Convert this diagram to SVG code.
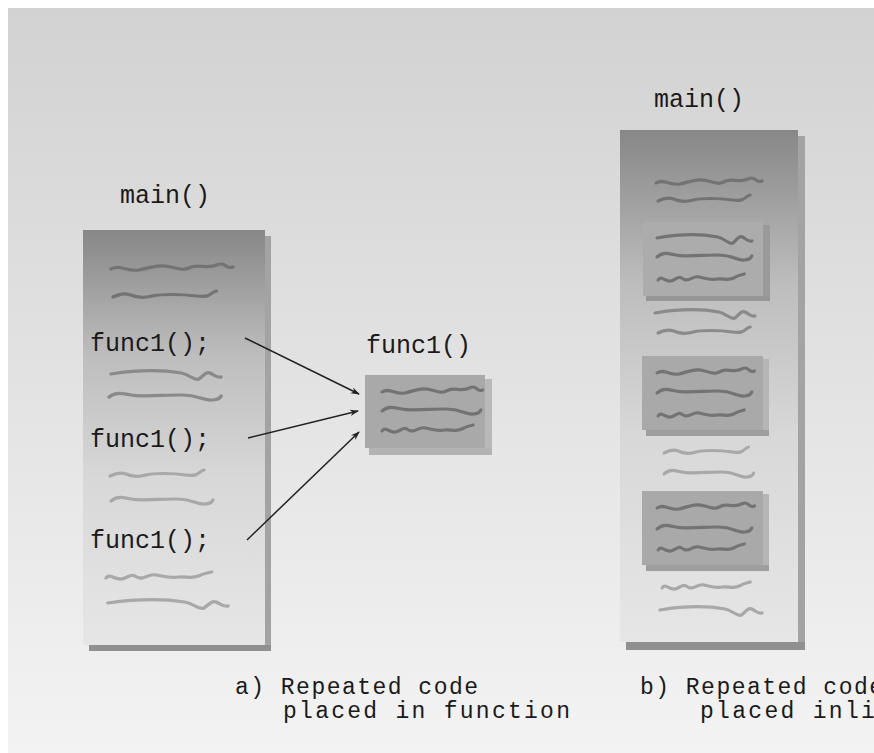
<svg xmlns="http://www.w3.org/2000/svg" xmlns:xlink="http://www.w3.org/1999/xlink" width="874" height="753" viewBox="0 0 874 753">
<style>
.t{font-family:"Liberation Mono","DejaVu Sans Mono",monospace;font-size:25px;fill:#1a1a1a}
.cap{font-size:23px}
.sq{fill:none;stroke-width:3.2;stroke-linecap:round;stroke-linejoin:round}
.dk{stroke:#737373}
.md{stroke:#8a8a8a}
.lt{stroke:#a8a8a8}
.face{fill:#a9a9a9}
.shr{fill:#b9b9b9}
.arrow{stroke:#222;stroke-width:1.5;fill:none;marker-end:url(#ah)}
</style>
<defs>
<linearGradient id="bg" x1="0" y1="0" x2="0" y2="1">
<stop offset="0" stop-color="#d2d2d2"/>
<stop offset="1" stop-color="#f3f3f3"/>
</linearGradient>
<linearGradient id="boxL" x1="0" y1="0" x2="0" y2="1">
<stop offset="0" stop-color="#878787"/>
<stop offset="0.3" stop-color="#bdbdbd"/>
<stop offset="0.6" stop-color="#d8d8d8"/>
<stop offset="1" stop-color="#e6e6e6"/>
</linearGradient>
<marker id="ah" viewBox="0 0 10 10" refX="9" refY="5" markerWidth="9" markerHeight="9" orient="auto" markerUnits="userSpaceOnUse">
<path d="M0,1.5 L10,5 L0,8.5 L3,5 Z" fill="#222"/>
</marker>
<path id="s1" d="M0,0 c8,-5 14,3 24,1 s16,-6 28,-3 s12,3 18,0 s14,2 22,-2 s8,5 14,2"/>
<path id="s2" d="M0,0 c6,-5 12,-4 20,-2 s30,0 46,0 s20,6 28,5 s6,-2 8,-4"/>
<path id="s3" d="M0,0 c18,-3 42,-5 64,-1 c8,2 12,8 16,6 c4,-3 6,-8 10,-6 c4,2 6,5 10,4"/>
<path id="s4" d="M0,0 c4,-5 8,2 14,1 s8,-6 14,-2 s10,-4 18,-2 s14,3 20,2 s12,2 18,-1 s8,-3 12,-4"/>
<path id="s5" d="M0,0 c6,-3 10,-4 16,-2 c6,3 12,3 20,1 s26,-2 40,0 s12,-4 18,-5"/>
</defs>

<rect x="0" y="0" width="874" height="753" fill="#ffffff"/>
<rect x="8" y="8" width="866" height="745" fill="url(#bg)"/>

<!-- Left main() -->
<g id="mainA">
<text class="t" x="120" y="203">main()</text>
<rect x="89" y="236" width="182" height="415" fill="#9b9b9b"/>
<rect x="265" y="236" width="6" height="415" fill="#a3a3a3"/>
<rect x="89" y="645" width="182" height="6" fill="#909090"/>
<rect x="83" y="230" width="182" height="415" fill="url(#boxL)"/>
<use xlink:href="#s1" class="sq dk" transform="translate(111,269) scale(1.15,1)"/>
<use xlink:href="#s5" class="sq dk" transform="translate(113,297) scale(1.1,1)"/>
<text class="t" x="90" y="351">func1();</text>
<use xlink:href="#s3" class="sq md" transform="translate(111,374) scale(1.1,1)"/>
<use xlink:href="#s2" class="sq md" transform="translate(109,397) scale(1.1,1)"/>
<text class="t" x="90" y="447">func1();</text>
<use xlink:href="#s5" class="sq lt" transform="translate(110,476) scale(1.0,1)"/>
<use xlink:href="#s2" class="sq lt" transform="translate(111,501) scale(1.0,1)"/>
<text class="t" x="90" y="548">func1();</text>
<use xlink:href="#s4" class="sq lt" transform="translate(106,578) scale(1.1,1)"/>
<use xlink:href="#s3" class="sq lt" transform="translate(108,603) scale(1.2,1)"/>
</g>

<!-- func1() box -->
<g id="func1">
<text class="t" x="366" y="353">func1()</text>
<rect x="485" y="379" width="7" height="76" class="shr"/>
<rect x="369" y="448" width="123" height="7" fill="#b3b3b3"/>
<rect x="365" y="375" width="120" height="73" class="face"/>
<use xlink:href="#s1" class="sq dk" transform="translate(382,392) scale(0.95,1)"/>
<use xlink:href="#s2" class="sq dk" transform="translate(382,411) scale(0.97,1)"/>
<use xlink:href="#s4" class="sq dk" transform="translate(382,431) scale(0.95,1)"/>
</g>

<!-- Right main() -->
<g id="mainB">
<text class="t" x="654" y="107">main()</text>
<rect x="626" y="136" width="179" height="514" fill="#9b9b9b"/>
<rect x="798" y="136" width="7" height="514" fill="#a3a3a3"/>
<rect x="626" y="642" width="179" height="8" fill="#909090"/>
<rect x="620" y="130" width="178" height="512" fill="url(#boxL)"/>
<use xlink:href="#s1" class="sq dk" transform="translate(656,183) scale(1.0,1)"/>
<use xlink:href="#s5" class="sq dk" transform="translate(658,201) scale(0.98,1)"/>
<rect x="763" y="225" width="7" height="76" fill="#9a9a9a"/>
<rect x="646" y="296" width="124" height="5" fill="#969696"/>
<rect x="643" y="222" width="120" height="74" fill="#acacac"/>
<use xlink:href="#s3" class="sq dk" transform="translate(657,238) scale(0.95,1)"/>
<use xlink:href="#s2" class="sq dk" transform="translate(657,257) scale(0.93,1)"/>
<use xlink:href="#s4" class="sq dk" transform="translate(658,280) scale(0.9,1)"/>
<use xlink:href="#s3" class="sq md" transform="translate(655,313) scale(1.0,1)"/>
<use xlink:href="#s5" class="sq md" transform="translate(658,333) scale(0.98,1)"/>
<rect x="763" y="359" width="6" height="77" fill="#b5b5b5"/>
<rect x="646" y="430" width="123" height="6" fill="#9e9e9e"/>
<rect x="642" y="356" width="121" height="74" class="face"/>
<use xlink:href="#s1" class="sq dk" transform="translate(657,373) scale(0.92,1)"/>
<use xlink:href="#s2" class="sq dk" transform="translate(657,393) scale(0.93,1)"/>
<use xlink:href="#s4" class="sq dk" transform="translate(658,416) scale(0.9,1)"/>
<use xlink:href="#s5" class="sq lt" transform="translate(664,453) scale(0.9,1)"/>
<use xlink:href="#s2" class="sq lt" transform="translate(664,474) scale(0.88,1)"/>
<rect x="763" y="494" width="6" height="77" fill="#b5b5b5"/>
<rect x="646" y="565" width="123" height="6" fill="#9e9e9e"/>
<rect x="642" y="491" width="121" height="74" class="face"/>
<use xlink:href="#s1" class="sq dk" transform="translate(657,508) scale(0.92,1)"/>
<use xlink:href="#s2" class="sq dk" transform="translate(657,529) scale(0.93,1)"/>
<use xlink:href="#s4" class="sq dk" transform="translate(658,550) scale(0.9,1)"/>
<use xlink:href="#s4" class="sq lt" transform="translate(662,588) scale(0.92,1)"/>
<use xlink:href="#s3" class="sq lt" transform="translate(660,610) scale(1.02,1)"/>
</g>

<!-- Connectors -->
<g id="connectors">
<line class="arrow" x1="245" y1="338" x2="359" y2="394"/>
<line class="arrow" x1="248" y1="438" x2="358" y2="411"/>
<line class="arrow" x1="247" y1="540" x2="359" y2="432"/>
</g>

<!-- Captions -->
<g id="captions">
<text class="t cap" x="235" y="694" textLength="243">a) Repeated code</text>
<text class="t cap" x="283" y="718" textLength="287">placed in function</text>
<text class="t cap" x="640" y="694" textLength="243">b) Repeated code</text>
<text class="t cap" x="700" y="718" textLength="207">placed inline</text>
</g>
</svg>
